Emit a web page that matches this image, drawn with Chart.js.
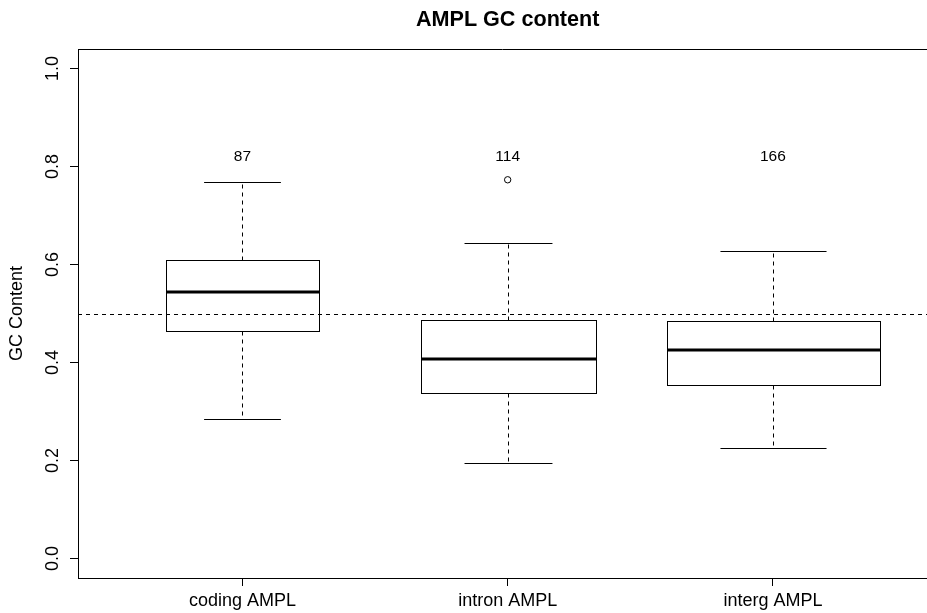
<!DOCTYPE html>
<html><head><meta charset="utf-8">
<script src="https://cdn.jsdelivr.net/npm/chart.js@4.4.0/dist/chart.umd.min.js"></script>
<style>html,body{margin:0;padding:0;background:#fff;overflow:hidden}canvas{display:block}</style>
</head><body>
<canvas id="c" width="927" height="613"></canvas>
<script>
// ---- data ----
const categories   = ['coding AMPL', 'intron AMPL', 'interg AMPL'];
const counts       = [87, 114, 166];
const whiskerLow   = [0.284, 0.194, 0.225];
const q1           = [0.464, 0.337, 0.354];
const median       = [0.543, 0.408, 0.426];
const q3           = [0.609, 0.486, 0.485];
const whiskerHigh  = [0.768, 0.644, 0.627];
const outlierGroup = [2];
const outlierValue = [0.773];
const yTicks       = [0, 0.2, 0.4, 0.6, 0.8, 1.0];
const yTickLabels  = ['0.0', '0.2', '0.4', '0.6', '0.8', '1.0'];
const refLine      = 0.5;
const countLabelY  = 0.82;
const titleText    = 'AMPL GC content';
const yTitle       = 'GC Content';

const FONT = '"Liberation Sans", Arial, Helvetica, sans-serif';

function seg(ctx, x1, y1, x2, y2) {
  ctx.beginPath(); ctx.moveTo(x1, y1); ctx.lineTo(x2, y2); ctx.stroke();
}

const boxPlugin = {
  id: 'rbox',
  afterDatasetsDraw(chart) {
    const { ctx, chartArea: a, scales: { x, y } } = chart;
    const nmax = Math.max(...counts);
    const py = v => y.getPixelForValue(v);
    ctx.save();
    ctx.strokeStyle = '#000';
    ctx.fillStyle = '#000';
    categories.forEach((c, i) => {
      const xv = i + 1;
      const cx = Math.round(x.getPixelForValue(xv)) + 0.5;
      const hw = x.getPixelForValue(xv + 0.4 * Math.sqrt(counts[i] / nmax)) - x.getPixelForValue(xv);
      const yq1 = Math.round(py(q1[i])) + 0.5, yq3 = Math.round(py(q3[i])) + 0.5;
      const ylo = Math.round(py(whiskerLow[i])) + 0.5, yhi = Math.round(py(whiskerHigh[i])) + 0.5;
      const xl = Math.round(cx - hw) + 0.5, xr = Math.round(cx + hw) + 0.5;
      ctx.lineWidth = 1;
      ctx.setLineDash([4, 4]);
      seg(ctx, cx, yq3, cx, yhi);
      seg(ctx, cx, yq1, cx, ylo);
      ctx.setLineDash([]);
      seg(ctx, cx - hw / 2, yhi, cx + hw / 2, yhi);
      seg(ctx, cx - hw / 2, ylo, cx + hw / 2, ylo);
      ctx.strokeRect(xl, yq3, xr - xl, yq1 - yq3);
      ctx.lineWidth = 3;
      const ym = Math.round(py(median[i]));
      seg(ctx, xl, ym, xr, ym);
      // counts
      ctx.font = '15.5px ' + FONT;
      ctx.textAlign = 'center';
      ctx.textBaseline = 'middle';
      ctx.fillText(String(counts[i]), x.getPixelForValue(xv), py(countLabelY));
    });
    // reference line
    ctx.save();
    ctx.beginPath(); ctx.rect(a.left, a.top, a.right - a.left, a.bottom - a.top); ctx.clip();
    ctx.lineWidth = 1;
    ctx.setLineDash([4, 4]);
    const yr = Math.round(py(refLine)) + 0.5;
    seg(ctx, a.left, yr, a.right, yr);
    ctx.restore();
    ctx.restore();
  },
  afterDraw(chart) {
    const { ctx, chartArea: a, scales: { x, y } } = chart;
    ctx.save();
    ctx.fillStyle = '#000';
    ctx.strokeStyle = '#000';
    // top frame line
    ctx.lineWidth = 1;
    seg(ctx, a.left, Math.round(a.top) + 0.5, a.right, Math.round(a.top) + 0.5);
    // rotated y tick labels
    ctx.font = '18px ' + FONT;
    ctx.textAlign = 'center';
    ctx.textBaseline = 'middle';
    y.ticks.forEach((t, i) => {
      ctx.save();
      ctx.translate(53.5, y.getPixelForValue(t.value));
      ctx.rotate(-Math.PI / 2);
      ctx.fillText(yTickLabels[i], 0, 0);
      ctx.restore();
    });
    // main title centred on the full plot region
    ctx.font = 'bold 21.6px ' + FONT;
    ctx.textAlign = 'center';
    ctx.textBaseline = 'alphabetic';
    ctx.fillText(titleText, x.getPixelForValue((1 + categories.length) / 2), 26);
    ctx.restore();
  }
};

new Chart(document.getElementById('c'), {
  type: 'scatter',
  data: {
    datasets: [{
      data: outlierGroup.map((g, i) => ({ x: g, y: outlierValue[i] })),
      pointRadius: 3.2,
      pointBorderWidth: 1,
      borderColor: '#000',
      backgroundColor: '#fff',
      showLine: false
    }]
  },
  options: {
    responsive: false,
    animation: false,
    devicePixelRatio: 1,
    layout: { autoPadding: false, padding: { top: 49, left: 0, right: 0, bottom: 0 } },
    plugins: { legend: { display: false }, tooltip: { enabled: false }, title: { display: false } },
    scales: {
      x: {
        type: 'linear',
        min: 0.38,
        max: 3.581,
        afterBuildTicks: s => { s.ticks = categories.map((c, i) => ({ value: i + 1 })); },
        afterFit: s => { s.height = 35; },
        ticks: {
          autoSkip: false, maxRotation: 0, minRotation: 0,
          callback: v => categories[Math.round(v) - 1],
          color: '#000', font: { family: FONT, size: 18 }, padding: 4
        },
        grid: { display: true, drawOnChartArea: false, drawTicks: true, tickLength: 8, color: '#000' },
        border: { display: true, color: '#000', width: 1 }
      },
      y: {
        type: 'linear',
        min: -0.04,
        max: 1.04,
        afterBuildTicks: s => { s.ticks = yTicks.map(v => ({ value: v })); },
        afterFit: s => { s.width = 78; },
        ticks: { display: false },
        grid: { display: true, drawOnChartArea: false, drawTicks: true, tickLength: 8, color: '#000' },
        border: { display: true, color: '#000', width: 1 },
        title: { display: true, text: yTitle, color: '#000', font: { family: FONT, size: 18 }, padding: { top: 6, bottom: 0 } }
      }
    }
  },
  plugins: [boxPlugin]
});
</script>
</body></html>
